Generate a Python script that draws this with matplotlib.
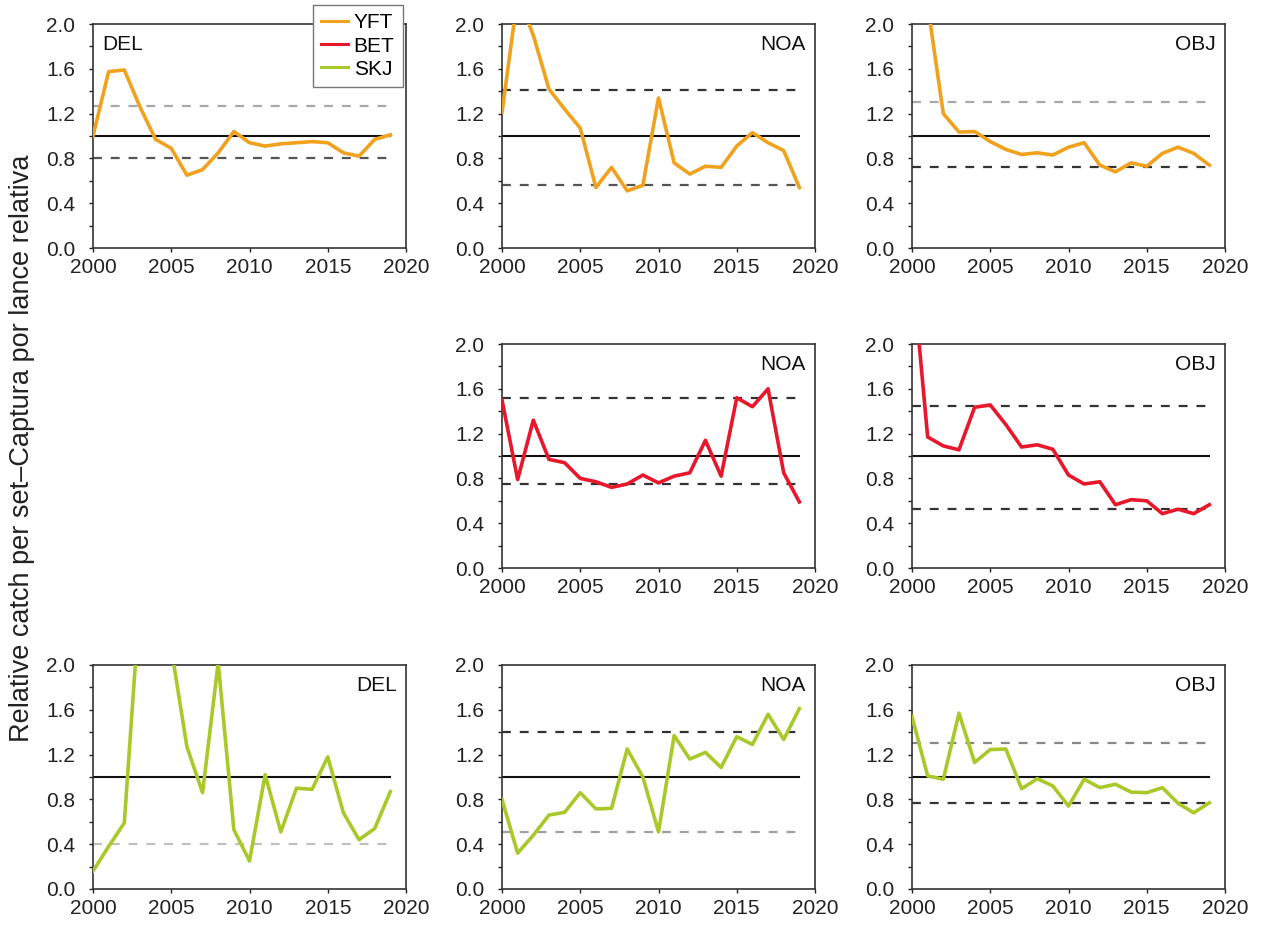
import matplotlib
matplotlib.use("Agg")
import matplotlib.pyplot as plt
from matplotlib.lines import Line2D
from matplotlib.ticker import MultipleLocator

plt.rcParams['font.family'] = ['Liberation Sans', 'DejaVu Sans']

# ---------------- data ----------------
years = list(range(2000, 2020))
years_from_2001 = list(range(2001, 2020))

yft_del = [1.00, 1.575, 1.59, 1.26, 0.97, 0.89, 0.65, 0.70, 0.85, 1.04,
           0.94, 0.91, 0.93, 0.94, 0.95, 0.94, 0.85, 0.82, 0.97, 1.01]
yft_noa = [1.21, 2.25, 1.90, 1.42, 1.24, 1.07, 0.54, 0.72, 0.51, 0.56,
           1.34, 0.76, 0.66, 0.73, 0.72, 0.91, 1.03, 0.94, 0.87, 0.54]
yft_obj = [2.17, 1.20, 1.035, 1.04, 0.95, 0.88, 0.835, 0.85, 0.83,
           0.90, 0.94, 0.74, 0.68, 0.76, 0.73, 0.845, 0.90, 0.845, 0.74]
bet_noa = [1.50, 0.79, 1.32, 0.97, 0.94, 0.80, 0.77, 0.72, 0.75, 0.83,
           0.76, 0.82, 0.85, 1.14, 0.82, 1.52, 1.44, 1.60, 0.85, 0.59]
bet_obj = [2.70, 1.17, 1.09, 1.055, 1.435, 1.456, 1.28, 1.08, 1.10, 1.06,
           0.83, 0.75, 0.77, 0.565, 0.61, 0.60, 0.485, 0.525, 0.485, 0.565]
skj_del = [0.16, 0.38, 0.59, 2.60, 3.00, 2.15, 1.27, 0.86, 2.02, 0.53,
           0.25, 1.02, 0.51, 0.90, 0.89, 1.18, 0.68, 0.44, 0.54, 0.87]
skj_noa = [0.80, 0.32, 0.48, 0.66, 0.685, 0.86, 0.715, 0.72, 1.25, 1.00,
           0.51, 1.37, 1.16, 1.22, 1.085, 1.36, 1.29, 1.56, 1.335, 1.61]
skj_obj = [1.54, 1.01, 0.98, 1.57, 1.13, 1.245, 1.25, 0.895, 0.985, 0.92,
           0.74, 0.98, 0.905, 0.935, 0.865, 0.86, 0.905, 0.765, 0.68, 0.77]

# reference bounds (upper, lower); None = outside the plotted range
yft_del_bounds = [1.27, 0.80]
yft_noa_bounds = [1.41, 0.56]
yft_obj_bounds = [1.30, 0.72]
bet_noa_bounds = [1.52, 0.75]
bet_obj_bounds = [1.45, 0.53]
skj_del_bounds = [None, 0.40]
skj_noa_bounds = [1.40, 0.51]
skj_obj_bounds = [1.30, 0.77]

species = ['YFT', 'BET', 'SKJ']
y_ticks = [0.0, 0.4, 0.8, 1.2, 1.6, 2.0]
x_ticks = [2000, 2005, 2010, 2015, 2020]

# ---------------- styles ----------------
C_YFT = '#F0A21E'
C_BET = '#E8172C'
C_SKJ = '#A9C92A'

panels = [
    # (row, col, x, y, colour, bounds, label, bound colours)
    (0, 0, years, yft_del, C_YFT, yft_del_bounds, 'DEL', ('#a8a8a8', '#555555')),
    (0, 1, years, yft_noa, C_YFT, yft_noa_bounds, 'NOA', ('#333333', '#555555')),
    (0, 2, years_from_2001, yft_obj, C_YFT, yft_obj_bounds, 'OBJ', ('#a8a8a8', '#333333')),
    (1, 1, years, bet_noa, C_BET, bet_noa_bounds, 'NOA', ('#333333', '#333333')),
    (1, 2, years, bet_obj, C_BET, bet_obj_bounds, 'OBJ', ('#333333', '#333333')),
    (2, 0, years, skj_del, C_SKJ, skj_del_bounds, 'DEL', ('#bbbbbb', '#c0c0c0')),
    (2, 1, years, skj_noa, C_SKJ, skj_noa_bounds, 'NOA', ('#333333', '#a0a0a0')),
    (2, 2, years, skj_obj, C_SKJ, skj_obj_bounds, 'OBJ', ('#888888', '#333333')),
]

W, H = 1266, 926
fig = plt.figure(figsize=(W / 100, H / 100), dpi=100)

col_left = [93, 502, 912]
row_top = [24, 344, 665]
ax_w, ax_h = 313, 224

for (r, c, xs, ys, col, bounds, lab, bcols) in panels:
    left = col_left[c] / W
    bottom = 1 - (row_top[r] + ax_h) / H
    ax = fig.add_axes([left, bottom, ax_w / W, ax_h / H])
    x0, x1 = years[0], years[-1]
    ax.plot([x0, x1], [1.0, 1.0], color='#111111', lw=1.5, zorder=2)
    for b, bc in zip(bounds, bcols):
        if b is not None:
            ax.plot([x0, x1], [b, b], color=bc, lw=1.6, ls=(0, (4, 4)), zorder=2)
    ax.plot(xs, ys, color=col, lw=2.6, zorder=3, solid_joinstyle='round')
    ax.set_xlim(2000, 2020)
    ax.set_ylim(0, 2.0)
    ax.set_xticks(x_ticks)
    ax.set_yticks(y_ticks)
    ax.set_yticklabels([f'{v:.1f}' for v in y_ticks])
    ax.yaxis.set_minor_locator(MultipleLocator(0.2))
    ax.tick_params(axis='both', which='major', direction='out', length=3,
                   width=1.0, labelsize=15, colors='#222222')
    ax.tick_params(axis='x', which='major', pad=4)
    ax.tick_params(axis='y', which='major', pad=10)
    ax.tick_params(axis='y', which='minor', direction='out', length=3, width=1.0,
                   colors='#222222')
    for s in ax.spines.values():
        s.set_color('#333333')
        s.set_linewidth(1.2)
    if lab == 'DEL' and r == 0:
        ax.text(0.03, 0.95, lab, transform=ax.transAxes, ha='left', va='top',
                fontsize=15, color='#111111')
    else:
        ax.text(0.97, 0.95, lab, transform=ax.transAxes, ha='right', va='top',
                fontsize=15, color='#111111')

fig.text(22 / W, 1 - 448 / H, 'Relative catch per set\u2013Captura por lance relativa',
         rotation=90, ha='center', va='center', fontsize=19.5, color='#222222')

handles = [Line2D([], [], color=C_YFT, lw=2.2),
           Line2D([], [], color=C_BET, lw=2.2),
           Line2D([], [], color=C_SKJ, lw=2.2)]
leg = fig.legend(handles, species, loc='upper left',
                 bbox_to_anchor=(313 / W, 1 - 5 / H), fontsize=15,
                 handlelength=1.3, handletextpad=0.25, borderpad=0.4,
                 labelspacing=0.2, fancybox=False, framealpha=1,
                 edgecolor='#777777', borderaxespad=0)
leg.get_frame().set_linewidth(1.0)

fig.savefig('out.png', dpi=100)
